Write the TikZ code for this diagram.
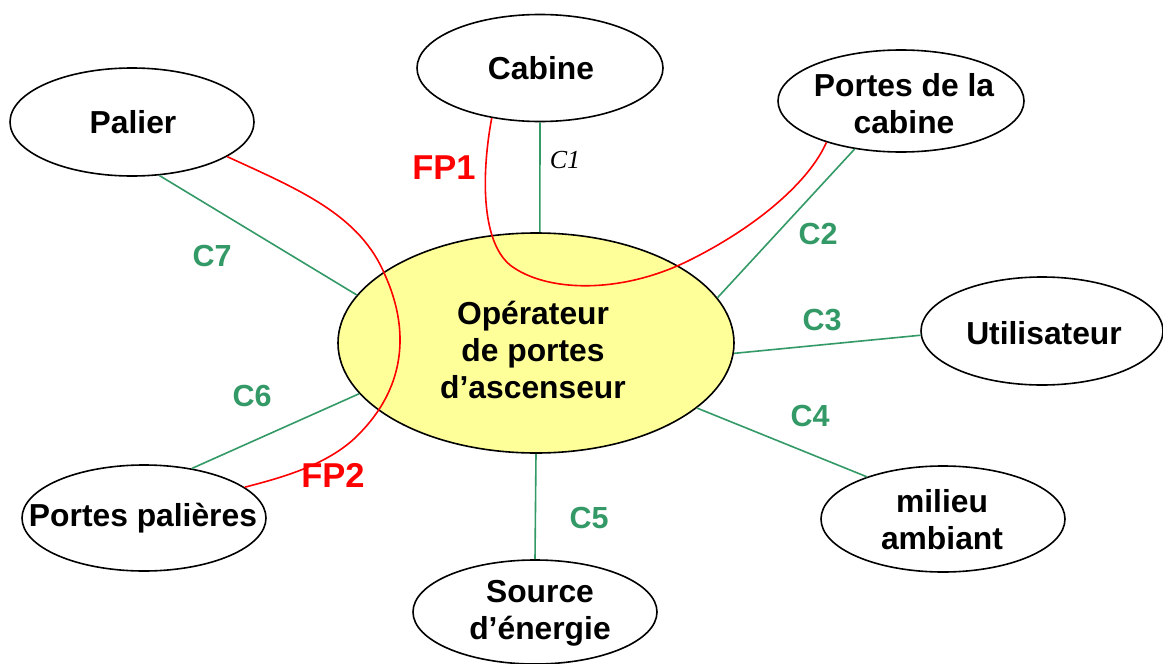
\documentclass[tikz,border=0pt]{standalone}
\usepackage{fontspec}
\setmainfont{Liberation Sans}
\newfontfamily\serifit{Liberation Serif}
\usetikzlibrary{shapes.geometric}
\definecolor{cgreen}{RGB}{51,153,102}
\definecolor{cyellow}{RGB}{255,255,153}
\tikzset{
  ell/.style={ellipse, draw=black, line width=1.6pt, inner sep=0pt, fill=white},
  txt/.style={align=center, font=\fontsize{31.8}{37}\selectfont\bfseries, inner sep=0pt},
  clab/.style={text=cgreen, font=\fontsize{30.5}{36}\selectfont\bfseries, inner sep=0pt},
  fplab/.style={text=red, font=\fontsize{34.5}{40}\selectfont\bfseries, inner sep=0pt},
  cline/.style={draw=cgreen, line width=1.6pt},
  fpline/.style={draw=red, line width=1.6pt}
}
\begin{document}
\begin{tikzpicture}[x=1pt,y=-1pt]
\useasboundingbox (0,0) rectangle (1163,664);
% nodes
\node[ell, fill=cyellow, minimum width=396pt, minimum height=220pt] (op) at (536,343) {};
\node[ell, minimum width=246pt, minimum height=107pt] (cab) at (540,68) {};
\node[ell, minimum width=244pt, minimum height=108pt] (pal) at (132,122) {};
\node[ell, minimum width=246pt, minimum height=102pt] (pcab) at (901,101) {};
\node[ell, minimum width=242pt, minimum height=108pt] (uti) at (1042,331) {};
\node[ell, minimum width=244pt, minimum height=106pt] (mil) at (943,519) {};
\node[ell, minimum width=244pt, minimum height=104pt] (src) at (535,612) {};
\node[ell, minimum width=244pt, minimum height=106pt] (ppal) at (144,518) {};
% texts
\node[txt] (opt) at (533,350) {Opérateur\\de portes\\d’ascenseur};
\node[txt] (cabt) at (541,68) {Cabine};
\node[txt] (palt) at (133,122) {Palier};
\node[txt] (pcabt) at (904,104) {Portes de la\\cabine};
\node[txt] (utit) at (1044,333) {Utilisateur};
\node[txt] (milt) at (942,520) {milieu\\ambiant};
\node[txt] (srct) at (540,613) {Source\\d’énergie};
\node[txt] (ppalt) at (143,518) {Portes palières};
% green connectors
\draw[cline] (cab.south) -- (op.88);
\draw[cline] (pcab.226) -- (op.14);
\draw[cline] (uti.182) -- (op.-3.5);
\draw[cline] (mil.151) -- (op.-22);
\draw[cline] (src.north) -- (op.south);
\draw[cline] (ppal.46.6) -- (op.196.8);
\draw[cline] (pal.297) -- (op.165);
% red curves
\draw[fpline] (cab.226) .. controls (482,170) and (480,240) .. (510,265)
  .. controls (545,292) and (620,295) .. (690,260)
  .. controls (760,225) and (810,180) .. (pcab.209.5);
\draw[fpline] (pal.340) .. controls (300,190) and (360,215) .. (385,275)
  .. controls (412,335) and (402,390) .. (360,433)
  .. controls (330,465) and (280,478) .. (ppal.17);
% labels
\node[font=\serifit\itshape\fontsize{26}{30}\selectfont, inner sep=0pt] (c1) at (565,160) {C1};
\node[clab] (c2) at (818,234) {C2};
\node[clab] (c3) at (822,320) {C3};
\node[clab] (c4) at (810,416) {C4};
\node[clab] (c5) at (589,518) {C5};
\node[clab] (c6) at (252,396) {C6};
\node[clab] (c7) at (212,256) {C7};
\node[fplab] (fp1) at (444,168) {FP1};
\node[fplab] (fp2) at (333,475) {FP2};
\end{tikzpicture}
\end{document}
